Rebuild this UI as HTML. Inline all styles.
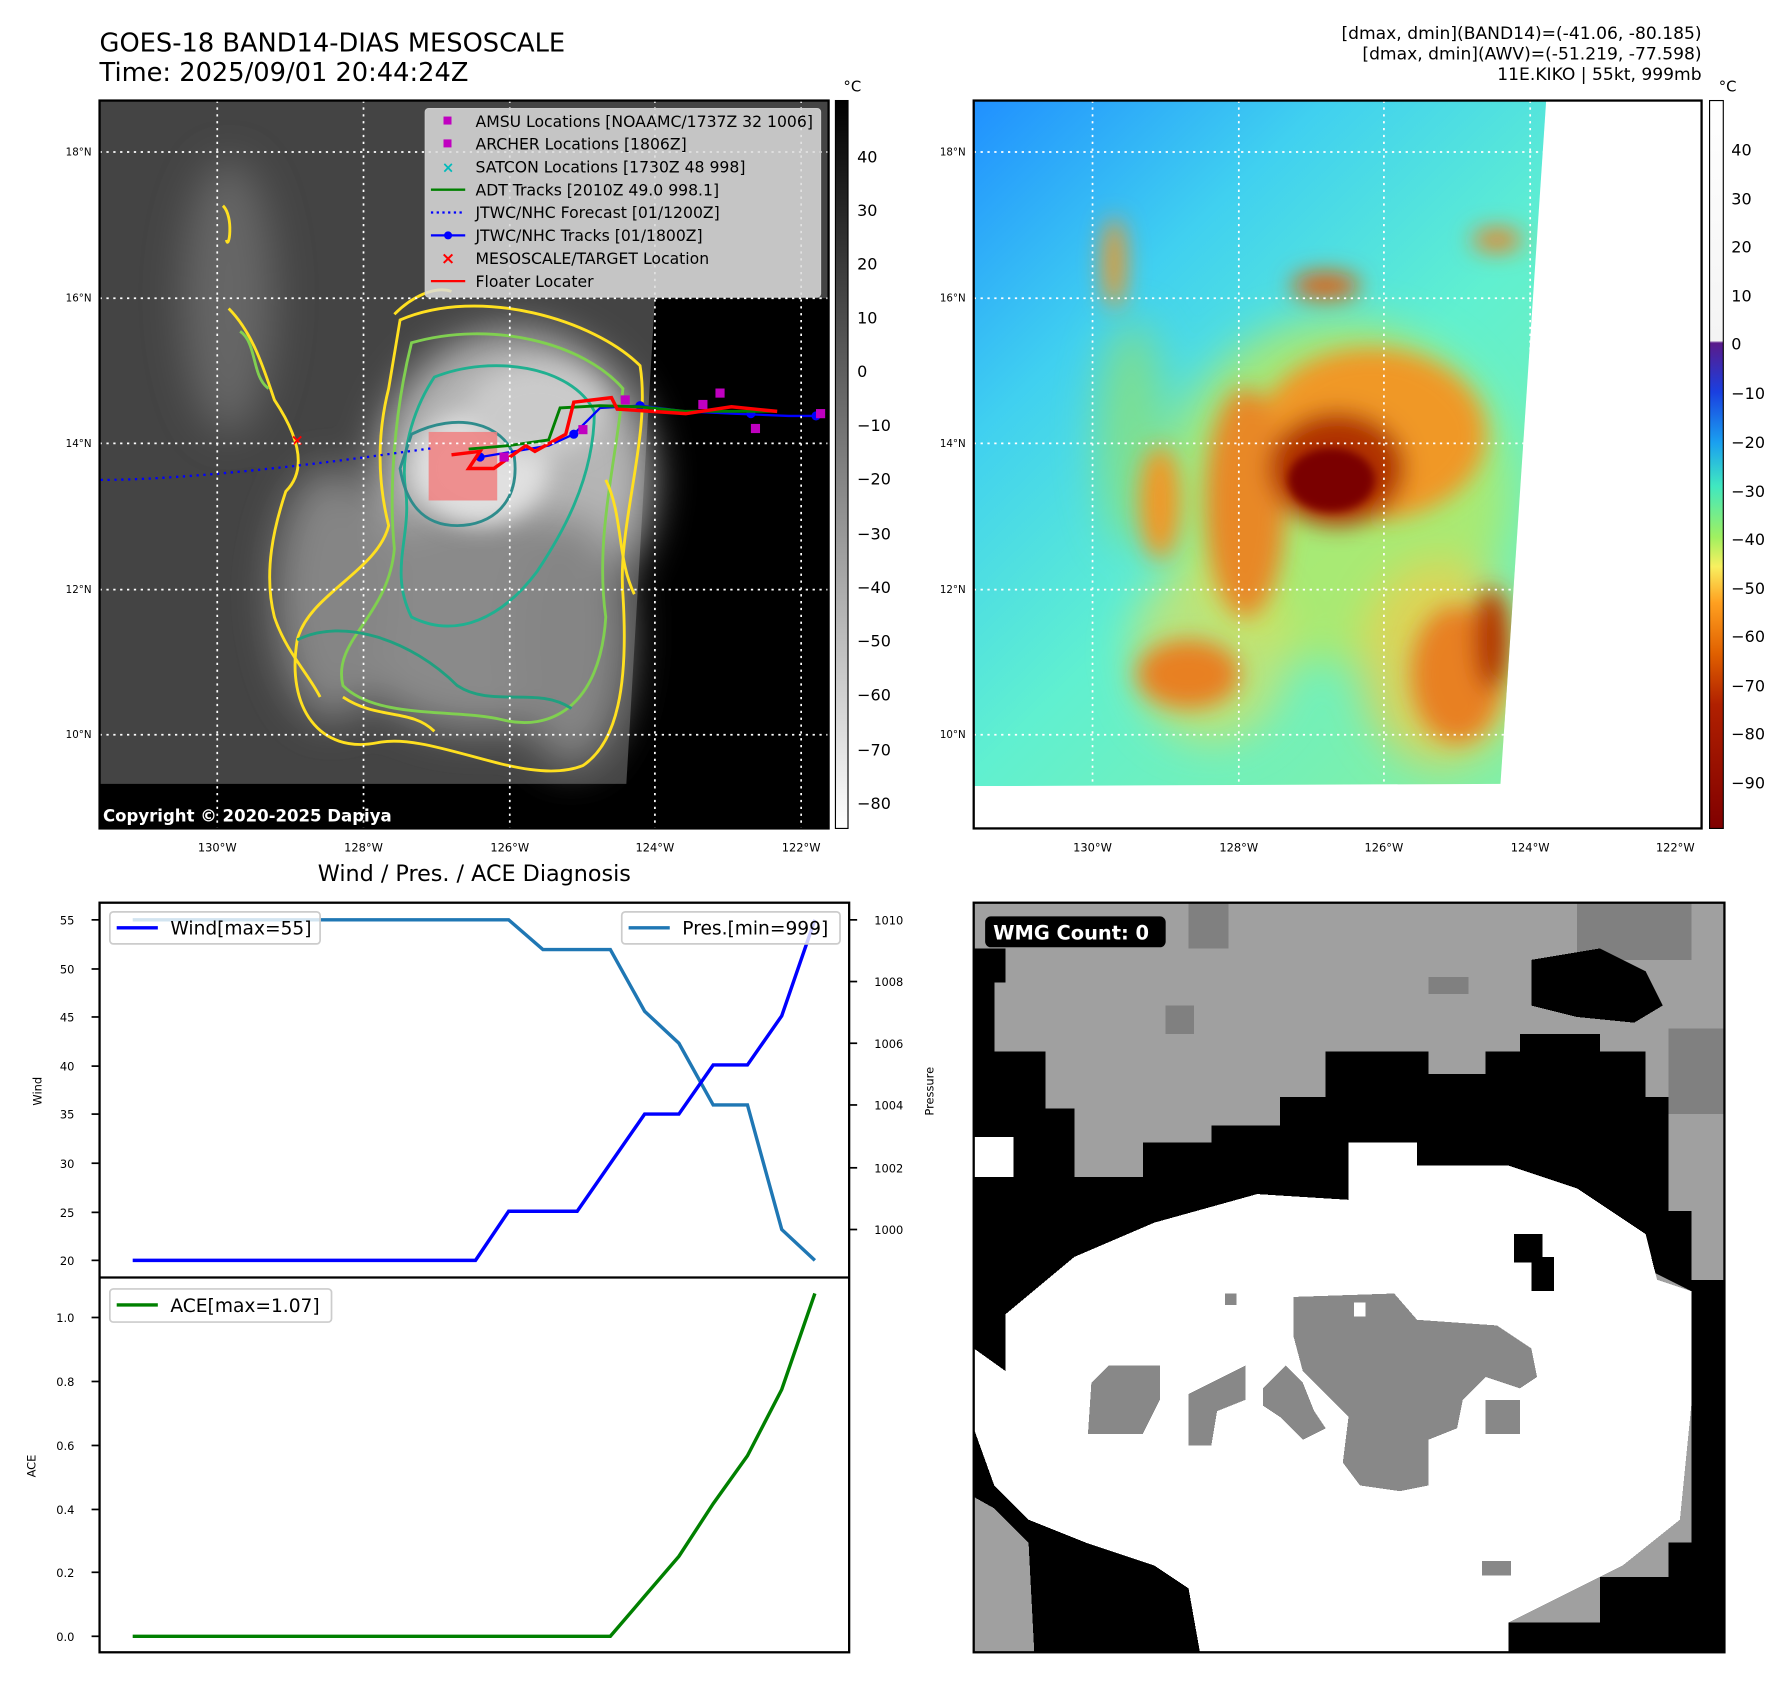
<!DOCTYPE html>
<html><head><meta charset="utf-8"><style>
html,body{margin:0;padding:0;background:#fff}
svg{display:block}
text{font-family:"DejaVu Sans","Liberation Sans",sans-serif}
</style></head><body>
<svg width="1792" height="1690" viewBox="0 0 1568 1479" xmlns="http://www.w3.org/2000/svg">
<defs>
<filter id="b4" x="-20%" y="-20%" width="140%" height="140%"><feGaussianBlur stdDeviation="4"/></filter>
<filter id="b6" x="-30%" y="-30%" width="160%" height="160%"><feGaussianBlur stdDeviation="6"/></filter>
<filter id="b10" x="-30%" y="-30%" width="160%" height="160%"><feGaussianBlur stdDeviation="10"/></filter>
<filter id="b18" x="-40%" y="-40%" width="180%" height="180%"><feGaussianBlur stdDeviation="18"/></filter>
<linearGradient id="cb1" x1="0" y1="0" x2="0" y2="1"><stop offset="0" stop-color="#000"/><stop offset="1" stop-color="#fff"/></linearGradient>
<linearGradient id="cb2" x1="0" y1="0" x2="0" y2="1">
<stop offset="0" stop-color="#fff"/><stop offset="0.33" stop-color="#f4f4f4"/>
<stop offset="0.333" stop-color="#5a1a8a"/><stop offset="0.4" stop-color="#1a3fe0"/>
<stop offset="0.47" stop-color="#1aa0f0"/><stop offset="0.53" stop-color="#40e8c0"/>
<stop offset="0.6" stop-color="#a0f060"/><stop offset="0.64" stop-color="#f8f060"/>
<stop offset="0.69" stop-color="#ffa020"/><stop offset="0.76" stop-color="#e06000"/>
<stop offset="0.83" stop-color="#b02000"/><stop offset="1" stop-color="#800000"/></linearGradient>
<linearGradient id="bgc" x1="0" y1="0" x2="0.8" y2="1"><stop offset="0" stop-color="#2090ff"/><stop offset="0.3" stop-color="#40d0f0"/><stop offset="0.6" stop-color="#60f0d0"/><stop offset="1" stop-color="#80f0a8"/></linearGradient>
<clipPath id="c1"><rect x="87" y="88" width="638" height="637"/></clipPath>
<clipPath id="c2"><polygon points="852,88 1353,88 1313,686 852,688"/></clipPath>
</defs>

<text x="87" y="45" font-size="22.5">GOES-18 BAND14-DIAS MESOSCALE</text>
<text x="87" y="71" font-size="22.5">Time: 2025/09/01 20:44:24Z</text>
<text x="1489" y="34" font-size="15" text-anchor="end">[dmax, dmin](BAND14)=(-41.06, -80.185)</text>
<text x="1489" y="52" font-size="15" text-anchor="end">[dmax, dmin](AWV)=(-51.219, -77.598)</text>
<text x="1489" y="70" font-size="15" text-anchor="end">11E.KIKO | 55kt, 999mb</text>

<!-- MAP 1 -->
<g clip-path="url(#c1)">
<rect x="87" y="88" width="638" height="637" fill="#000"/>
<polygon points="87,88 725,88 725,261 573,261 548,686 87,686" fill="#444"/>
<g filter="url(#b18)">
<ellipse cx="200" cy="260" rx="40" ry="120" fill="#666"/>
<ellipse cx="450" cy="420" rx="120" ry="130" fill="#b5b5b5"/>
<ellipse cx="420" cy="540" rx="130" ry="100" fill="#8a8a8a"/>
<ellipse cx="290" cy="520" rx="50" ry="110" fill="#858585"/>
<ellipse cx="500" cy="560" rx="50" ry="110" fill="#858585"/>
</g>
<g filter="url(#b10)">
<ellipse cx="420" cy="410" rx="60" ry="50" fill="#e0e0e0"/>
<ellipse cx="470" cy="360" rx="60" ry="40" fill="#cacaca"/>
</g>
<g fill="none" stroke-width="2.5">
<path d="M350,280 C420,250 520,280 560,320 C570,380 540,460 545,520 C550,600 540,650 510,670 C460,690 380,640 330,650 C280,660 250,620 260,560 C270,520 330,500 340,460 C330,420 330,380 340,340 Z" stroke="#ffe020"/>
<path d="M360,300 C430,280 510,300 545,340 C540,400 520,470 530,540 C525,620 480,640 440,630 C400,620 330,630 300,600 C290,560 340,540 345,480 C340,430 345,360 360,300 Z" stroke="#80d050"/>
<path d="M380,330 C430,310 500,320 520,360 C520,420 490,470 470,500 C440,540 400,560 360,540 C340,500 360,470 355,430 C350,400 360,360 380,330 Z" stroke="#20b090"/>
<path d="M360,380 C400,360 440,370 450,400 C455,440 430,460 400,460 C370,460 355,440 350,410 Z" stroke="#2e8c8c"/>
<path d="M260,560 C300,540 360,560 400,600 C430,620 470,600 500,620" stroke="#20a080"/>
<path d="M200,270 C220,290 230,320 240,350 C260,380 270,410 250,430 C240,460 230,500 240,540 C250,570 270,590 280,610" stroke="#ffe020"/>
<path d="M195,180 C205,190 200,220 198,210" stroke="#ffe020"/>
<path d="M210,290 C225,300 220,330 235,340" stroke="#80d050"/>
<path d="M345,275 C360,260 380,250 395,255" stroke="#ffe020"/>
<path d="M530,420 C545,450 540,490 555,520" stroke="#ffe020"/>
<path d="M300,610 C330,630 360,620 380,640" stroke="#ffe020"/>
</g>
<rect x="375" y="378" width="60" height="60" fill="#f08080" opacity="0.85"/>
<path d="M88,420 C150,420 250,410 350,396 L380,392" stroke="#0000ff" stroke-width="2" stroke-dasharray="2,4" fill="none"/>
<polyline points="420,400 450,395 480,390 502,380 525,357 560,355 600,360 640,362 690,364 720,364" stroke="#0000ff" stroke-width="2" fill="none"/>
<g fill="#0000ff"><circle cx="420" cy="400" r="4"/><circle cx="502" cy="380" r="4"/><circle cx="560" cy="355" r="4"/><circle cx="657" cy="362" r="4"/><circle cx="714" cy="364" r="4"/></g>
<polyline points="410,393 445,390 480,385 490,357 525,355 560,356 600,360 680,360" stroke="#008000" stroke-width="2.5" fill="none"/>
<polyline points="395,398 420,395 410,410 432,410 460,390 468,395 495,380 502,352 535,348 540,358 600,362 640,356 680,360" stroke="#ff0000" stroke-width="3" fill="none"/>
<g fill="#c000c0"><rect x="611" y="350" width="8" height="8"/><rect x="626" y="340" width="8" height="8"/><rect x="657" y="371" width="8" height="8"/><rect x="543" y="346" width="8" height="8"/><rect x="506" y="372" width="8" height="8"/><rect x="437" y="396" width="8" height="8"/><rect x="714" y="358" width="8" height="8"/></g>
<text x="260" y="390" font-size="14" fill="#ff0000" text-anchor="middle" font-weight="bold">×</text>
<g stroke="#fff" stroke-width="1.5" stroke-dasharray="2,4">
<line x1="87" y1="133" x2="725" y2="133"/><line x1="87" y1="261" x2="725" y2="261"/><line x1="87" y1="388" x2="725" y2="388"/><line x1="87" y1="516" x2="725" y2="516"/><line x1="87" y1="643" x2="725" y2="643"/>
<line x1="190" y1="88" x2="190" y2="725"/><line x1="318" y1="88" x2="318" y2="725"/><line x1="446" y1="88" x2="446" y2="725"/><line x1="573" y1="88" x2="573" y2="725"/><line x1="701" y1="88" x2="701" y2="725"/>
</g>
<rect x="372" y="95" width="346" height="165" rx="3" fill="#dcdcdc" fill-opacity="0.85" stroke="#ccc"/>
<g font-size="13.7">
<rect x="388" y="102" width="7" height="7" fill="#c000c0"/><text x="416" y="111">AMSU Locations [NOAAMC/1737Z 32 1006]</text>
<rect x="388" y="122" width="7" height="7" fill="#c000c0"/><text x="416" y="131">ARCHER Locations [1806Z]</text>
<text x="392" y="151" fill="#00bbbb" text-anchor="middle" font-weight="bold" font-size="13">×</text><text x="416" y="151">SATCON Locations [1730Z 48 998]</text>
<line x1="377" y1="166" x2="407" y2="166" stroke="#008000" stroke-width="2"/><text x="416" y="171">ADT Tracks [2010Z 49.0 998.1]</text>
<line x1="377" y1="186" x2="407" y2="186" stroke="#0000ff" stroke-width="2" stroke-dasharray="2,3"/><text x="416" y="191">JTWC/NHC Forecast [01/1200Z]</text>
<line x1="377" y1="206" x2="407" y2="206" stroke="#0000ff" stroke-width="2"/><circle cx="392" cy="206" r="3.5" fill="#0000ff"/><text x="416" y="211">JTWC/NHC Tracks [01/1800Z]</text>
<text x="392" y="231" fill="#ff0000" text-anchor="middle" font-weight="bold" font-size="15">×</text><text x="416" y="231">MESOSCALE/TARGET Location</text>
<line x1="377" y1="246" x2="407" y2="246" stroke="#ff0000" stroke-width="2"/><text x="416" y="251">Floater Locater</text>
</g>
<text x="90" y="719" font-size="14.5" fill="#fff" font-weight="bold">Copyright © 2020-2025 Dapiya</text>
</g>
<rect x="87" y="88" width="638" height="637" fill="none" stroke="#000" stroke-width="2"/>
<g font-size="9" text-anchor="end"><text x="80" y="136">18°N</text><text x="80" y="264">16°N</text><text x="80" y="391">14°N</text><text x="80" y="519">12°N</text><text x="80" y="646">10°N</text></g>
<g font-size="10" text-anchor="middle"><text x="190" y="745">130°W</text><text x="318" y="745">128°W</text><text x="446" y="745">126°W</text><text x="573" y="745">124°W</text><text x="701" y="745">122°W</text></g>
<rect x="731" y="88" width="11" height="637" fill="url(#cb1)" stroke="#000" stroke-width="1"/>
<text x="738" y="80" font-size="13">°C</text>
<g font-size="14"><text x="750" y="142">40</text><text x="750" y="189">30</text><text x="750" y="236">20</text><text x="750" y="283">10</text><text x="750" y="330">0</text><text x="750" y="377">−10</text><text x="750" y="424">−20</text><text x="750" y="472">−30</text><text x="750" y="519">−40</text><text x="750" y="566">−50</text><text x="750" y="613">−60</text><text x="750" y="661">−70</text><text x="750" y="708">−80</text></g>

<!-- MAP 2 -->
<g clip-path="url(#c2)">
<rect x="852" y="88" width="501" height="600" fill="url(#bgc)"/>
<g filter="url(#b18)">
<ellipse cx="1170" cy="430" rx="150" ry="150" fill="#b8e860" opacity="0.8"/>
<ellipse cx="1060" cy="570" rx="70" ry="80" fill="#d8e060" opacity="0.7"/>
<ellipse cx="1260" cy="580" rx="70" ry="90" fill="#e8d050" opacity="0.8"/>
<ellipse cx="990" cy="380" rx="30" ry="100" fill="#90e070" opacity="0.7"/>
</g>
<g filter="url(#b10)">
<ellipse cx="1200" cy="380" rx="100" ry="75" fill="#f09828"/>
<ellipse cx="1090" cy="440" rx="35" ry="100" fill="#e88828"/>
<ellipse cx="1040" cy="590" rx="45" ry="30" fill="#e88020"/>
<ellipse cx="1275" cy="590" rx="40" ry="60" fill="#e88020"/>
<ellipse cx="1160" cy="250" rx="30" ry="12" fill="#e06010"/>
<ellipse cx="1310" cy="210" rx="22" ry="10" fill="#f08020"/>
<ellipse cx="1015" cy="440" rx="18" ry="50" fill="#f09828"/>
<ellipse cx="975" cy="230" rx="10" ry="40" fill="#f09828"/>
<ellipse cx="1170" cy="410" rx="60" ry="50" fill="#b03000"/>
<ellipse cx="1305" cy="560" rx="15" ry="45" fill="#b03000"/>
</g>
<g filter="url(#b4)"><ellipse cx="1165" cy="420" rx="38" ry="28" fill="#7a0000"/></g>
</g>
<g stroke="#fff" stroke-width="1.5" stroke-dasharray="2,4">
<line x1="852" y1="133" x2="1489" y2="133"/><line x1="852" y1="261" x2="1489" y2="261"/><line x1="852" y1="388" x2="1489" y2="388"/><line x1="852" y1="516" x2="1489" y2="516"/><line x1="852" y1="643" x2="1489" y2="643"/>
<line x1="956" y1="88" x2="956" y2="725"/><line x1="1084" y1="88" x2="1084" y2="725"/><line x1="1211" y1="88" x2="1211" y2="725"/><line x1="1339" y1="88" x2="1339" y2="725"/><line x1="1466" y1="88" x2="1466" y2="725"/>
</g>
<rect x="852" y="88" width="637" height="637" fill="none" stroke="#000" stroke-width="2"/>
<g font-size="9" text-anchor="end"><text x="845" y="136">18°N</text><text x="845" y="264">16°N</text><text x="845" y="391">14°N</text><text x="845" y="519">12°N</text><text x="845" y="646">10°N</text></g>
<g font-size="10" text-anchor="middle"><text x="956" y="745">130°W</text><text x="1084" y="745">128°W</text><text x="1211" y="745">126°W</text><text x="1339" y="745">124°W</text><text x="1466" y="745">122°W</text></g>
<rect x="1496" y="88" width="12" height="637" fill="url(#cb2)" stroke="#000" stroke-width="1"/>
<text x="1504" y="80" font-size="13">°C</text>
<g font-size="14"><text x="1515" y="136">40</text><text x="1515" y="179">30</text><text x="1515" y="221">20</text><text x="1515" y="264">10</text><text x="1515" y="306">0</text><text x="1515" y="349">−10</text><text x="1515" y="392">−20</text><text x="1515" y="435">−30</text><text x="1515" y="477">−40</text><text x="1515" y="520">−50</text><text x="1515" y="562">−60</text><text x="1515" y="605">−70</text><text x="1515" y="647">−80</text><text x="1515" y="690">−90</text></g>

<!-- Diagnosis -->
<text x="415" y="771" font-size="19.5" text-anchor="middle">Wind / Pres. / ACE Diagnosis</text>
<rect x="87" y="790" width="656" height="656" fill="#fff" stroke="#000" stroke-width="2"/>
<line x1="87" y1="1118" x2="743" y2="1118" stroke="#000" stroke-width="2"/>
<g font-size="10" text-anchor="end">
<text x="65" y="809">55</text><text x="65" y="852">50</text><text x="65" y="894">45</text><text x="65" y="937">40</text><text x="65" y="979">35</text><text x="65" y="1022">30</text><text x="65" y="1065">25</text><text x="65" y="1107">20</text>
<text x="65" y="1157">1.0</text><text x="65" y="1213">0.8</text><text x="65" y="1269">0.6</text><text x="65" y="1325">0.4</text><text x="65" y="1380">0.2</text><text x="65" y="1436">0.0</text>
</g>
<g stroke="#000" stroke-width="1.5">
<line x1="80" y1="805" x2="87" y2="805"/><line x1="80" y1="848" x2="87" y2="848"/><line x1="80" y1="890" x2="87" y2="890"/><line x1="80" y1="933" x2="87" y2="933"/><line x1="80" y1="975" x2="87" y2="975"/><line x1="80" y1="1018" x2="87" y2="1018"/><line x1="80" y1="1061" x2="87" y2="1061"/><line x1="80" y1="1103" x2="87" y2="1103"/>
<line x1="80" y1="1153" x2="87" y2="1153"/><line x1="80" y1="1209" x2="87" y2="1209"/><line x1="80" y1="1265" x2="87" y2="1265"/><line x1="80" y1="1321" x2="87" y2="1321"/><line x1="80" y1="1376" x2="87" y2="1376"/><line x1="80" y1="1432" x2="87" y2="1432"/>
<line x1="743" y1="805" x2="750" y2="805"/><line x1="743" y1="859" x2="750" y2="859"/><line x1="743" y1="913" x2="750" y2="913"/><line x1="743" y1="967" x2="750" y2="967"/><line x1="743" y1="1022" x2="750" y2="1022"/><line x1="743" y1="1076" x2="750" y2="1076"/>
</g>
<g font-size="10"><text x="765" y="809">1010</text><text x="765" y="863">1008</text><text x="765" y="917">1006</text><text x="765" y="971">1004</text><text x="765" y="1026">1002</text><text x="765" y="1080">1000</text></g>
<text transform="translate(36,955) rotate(-90)" font-size="10" text-anchor="middle">Wind</text>
<text transform="translate(817,955) rotate(-90)" font-size="10" text-anchor="middle">Pressure</text>
<text transform="translate(31,1283) rotate(-90)" font-size="10" text-anchor="middle">ACE</text>
<polyline points="116,805 445,805 475,831 534,831 564,885 594,913 624,967 654,967 684,1076 713,1103" fill="none" stroke="#1f77b4" stroke-width="3"/>
<polyline points="116,1103 416,1103 445,1060 505,1060 564,975 594,975 624,932 654,932 684,889 713,805" fill="none" stroke="#0000ff" stroke-width="3"/>
<polyline points="116,1432 534,1432 564,1397 594,1362 624,1316 654,1274 684,1216 713,1132" fill="none" stroke="#008000" stroke-width="3"/>
<rect x="96" y="798" width="184" height="28" rx="3" fill="#fff" fill-opacity="0.8" stroke="#ccc" stroke-width="1.5"/>
<line x1="102" y1="812" x2="138" y2="812" stroke="#0000ff" stroke-width="3"/><text x="149" y="818" font-size="16.3">Wind[max=55]</text>
<rect x="544" y="798" width="191" height="28" rx="3" fill="#fff" fill-opacity="0.8" stroke="#ccc" stroke-width="1.5"/>
<line x1="550" y1="812" x2="586" y2="812" stroke="#1f77b4" stroke-width="3"/><text x="597" y="818" font-size="16.3">Pres.[min=999]</text>
<rect x="96" y="1128" width="194" height="29" rx="3" fill="#fff" stroke="#ccc" stroke-width="1.5"/>
<line x1="102" y1="1142" x2="138" y2="1142" stroke="#008000" stroke-width="3"/><text x="149" y="1148" font-size="16.3">ACE[max=1.07]</text>

<!-- WMG -->
<g shape-rendering="crispEdges">
<rect x="852" y="790" width="657" height="656" fill="#a0a0a0"/>
<rect x="1040" y="790" width="35" height="40" fill="#808080"/>
<rect x="1380" y="790" width="100" height="50" fill="#808080"/>
<rect x="1460" y="900" width="49" height="75" fill="#808080"/>
<rect x="1250" y="855" width="35" height="15" fill="#808080"/>
<rect x="1020" y="880" width="25" height="25" fill="#808080"/>
<path d="M852,830 L880,830 L880,860 L870,860 L870,920 L915,920 L915,970 L940,970 L940,1030 L1000,1030 L1000,1000 L1060,1000 L1060,985 L1120,985 L1120,960 L1160,960 L1160,920 L1250,920 L1250,940 L1300,940 L1300,920 L1330,920 L1330,905 L1400,905 L1400,920 L1440,920 L1440,960 L1460,960 L1460,1060 L1480,1060 L1480,1120 L1509,1120 L1509,1446 L1320,1446 L1320,1420 L1400,1420 L1400,1380 L1460,1380 L1460,1350 L1480,1350 L1480,1230 L1480,1130 L1440,1110 L1380,1075 L1320,1060 L1180,1050 L1100,1045 L1010,1070 L940,1100 L880,1150 L880,1200 L870,1300 L900,1330 L950,1350 L1010,1370 L1040,1390 L1050,1446 L905,1446 L900,1350 L870,1320 L852,1310 Z" fill="#000"/>
<rect x="852" y="995" width="35" height="35" fill="#fff"/>
<path d="M1340,840 L1400,830 L1440,850 L1455,880 L1430,895 L1380,890 L1340,880 Z" fill="#000"/>
<path d="M880,1150 L940,1100 L1010,1070 L1100,1045 L1180,1050 L1180,1000 L1240,1000 L1240,1020 L1320,1020 L1380,1040 L1440,1080 L1450,1120 L1480,1130 L1480,1230 L1470,1330 L1420,1370 L1400,1380 L1320,1420 L1320,1446 L1050,1446 L1040,1390 L1010,1370 L950,1350 L900,1330 L870,1300 L852,1250 L852,1180 L880,1200 Z" fill="#fff"/>
<rect x="1325" y="1080" width="25" height="25" fill="#000"/><rect x="1340" y="1100" width="20" height="30" fill="#000"/>
<path d="M1132,1135 L1220,1132 L1240,1155 L1310,1160 L1340,1180 L1345,1205 L1330,1215 L1300,1205 L1280,1225 L1275,1250 L1250,1260 L1250,1300 L1225,1305 L1190,1300 L1175,1280 L1180,1240 L1160,1220 L1140,1200 L1132,1170 Z" fill="#888"/>
<path d="M970,1195 L1015,1195 L1015,1225 L1000,1255 L952,1255 L955,1210 Z" fill="#888"/>
<path d="M1040,1220 L1090,1195 L1090,1225 L1065,1235 L1060,1265 L1040,1265 Z" fill="#888"/>
<path d="M1105,1215 L1125,1195 L1140,1210 L1150,1235 L1160,1250 L1140,1260 L1120,1240 L1105,1230 Z" fill="#888"/>
<rect x="1300" y="1225" width="30" height="30" fill="#888"/>
<rect x="1297" y="1366" width="25" height="13" fill="#888"/>
<rect x="1185" y="1140" width="10" height="12" fill="#fff"/>
<rect x="1072" y="1132" width="10" height="10" fill="#888"/>
</g>
<rect x="852" y="790" width="657" height="656" fill="none" stroke="#000" stroke-width="2"/>
<rect x="862" y="802" width="158" height="27" rx="5" fill="#000"/>
<text x="869" y="822" font-size="17" fill="#fff" font-weight="bold">WMG Count: 0</text>
</svg>
</body></html>
